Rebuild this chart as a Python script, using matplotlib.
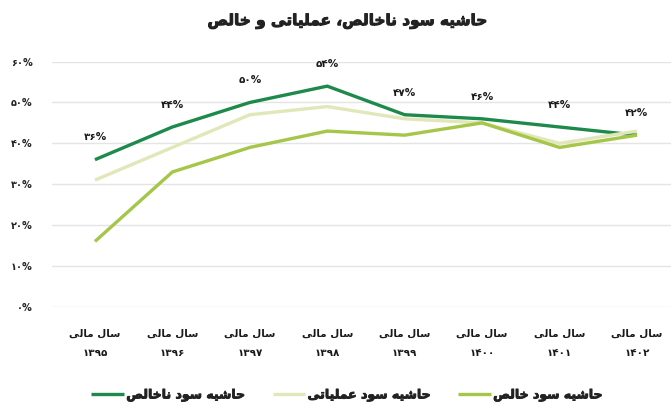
import re
import numpy as np
import matplotlib
matplotlib.use('Agg')
import matplotlib.pyplot as plt
import matplotlib.patheffects as pe

# data (percent)
years = ['۱۳۹۵', '۱۳۹۶', '۱۳۹۷', '۱۳۹۸', '۱۳۹۹', '۱۴۰۰', '۱۴۰۱', '۱۴۰۲']
gross = [36, 44, 50, 54, 47, 46, 44, 42]
operating = [31, 39, 47, 49, 46, 45, 40, 43]
net = [16, 33, 39, 43, 42, 45, 39, 42]
series_names = ['حاشیه سود ناخالص', 'حاشیه سود عملیاتی', 'حاشیه سود خالص']
yticks = [0, 10, 20, 30, 40, 50, 60]
title = 'حاشیه سود ناخالص، عملیاتی و خالص'
cat_prefix = 'سال مالی'

colors = ['#1d8a4c', '#e2e7b9', '#a6c64a']

# matplotlib has no arabic shaping / bidi, so pick contextual forms by hand
FORMS = {
    'ا': ('\uFE8D', '\uFE8E'), 'آ': ('\uFE81', '\uFE82'),
    'د': ('\uFEA9', '\uFEAA'), 'ذ': ('\uFEAB', '\uFEAC'),
    'ر': ('\uFEAD', '\uFEAE'), 'ز': ('\uFEAF', '\uFEB0'),
    'ژ': ('\uFB8A', '\uFB8B'), 'و': ('\uFEED', '\uFEEE'),
    'ب': ('\uFE8F', '\uFE90', '\uFE91', '\uFE92'),
    'پ': ('\uFB56', '\uFB57', '\uFB58', '\uFB59'),
    'ت': ('\uFE95', '\uFE96', '\uFE97', '\uFE98'),
    'ث': ('\uFE99', '\uFE9A', '\uFE9B', '\uFE9C'),
    'ج': ('\uFE9D', '\uFE9E', '\uFE9F', '\uFEA0'),
    'چ': ('\uFB7A', '\uFB7B', '\uFB7C', '\uFB7D'),
    'ح': ('\uFEA1', '\uFEA2', '\uFEA3', '\uFEA4'),
    'خ': ('\uFEA5', '\uFEA6', '\uFEA7', '\uFEA8'),
    'س': ('\uFEB1', '\uFEB2', '\uFEB3', '\uFEB4'),
    'ش': ('\uFEB5', '\uFEB6', '\uFEB7', '\uFEB8'),
    'ص': ('\uFEB9', '\uFEBA', '\uFEBB', '\uFEBC'),
    'ض': ('\uFEBD', '\uFEBE', '\uFEBF', '\uFEC0'),
    'ط': ('\uFEC1', '\uFEC2', '\uFEC3', '\uFEC4'),
    'ظ': ('\uFEC5', '\uFEC6', '\uFEC7', '\uFEC8'),
    'ع': ('\uFEC9', '\uFECA', '\uFECB', '\uFECC'),
    'غ': ('\uFECD', '\uFECE', '\uFECF', '\uFED0'),
    'ف': ('\uFED1', '\uFED2', '\uFED3', '\uFED4'),
    'ق': ('\uFED5', '\uFED6', '\uFED7', '\uFED8'),
    'ک': ('\uFB8E', '\uFB8F', '\uFB90', '\uFB91'),
    'گ': ('\uFB92', '\uFB93', '\uFB94', '\uFB95'),
    'ل': ('\uFEDD', '\uFEDE', '\uFEDF', '\uFEE0'),
    'م': ('\uFEE1', '\uFEE2', '\uFEE3', '\uFEE4'),
    'ن': ('\uFEE5', '\uFEE6', '\uFEE7', '\uFEE8'),
    'ه': ('\uFEE9', '\uFEEA', '\uFEEB', '\uFEEC'),
    'ی': ('\uFBFC', '\uFBFD', '\uFBFE', '\uFBFF'),
}


def shape_line(line):
    out = []
    for i, ch in enumerate(line):
        if ch not in FORMS:
            out.append(ch)
            continue
        f = FORMS[ch]
        prev = line[i - 1] if i > 0 else ''
        nxt = line[i + 1] if i + 1 < len(line) else ''
        pj = prev in FORMS and len(FORMS[prev]) == 4
        nj = nxt in FORMS and len(f) == 4
        if pj and nj:
            out.append(f[3])
        elif pj:
            out.append(f[1])
        elif nj:
            out.append(f[2])
        else:
            out.append(f[0])
    s = ''.join(out)
    # visual order: reverse, but keep digit runs left-to-right
    tokens = re.findall(r'[0-9\u06F0-\u06F9%]+|.', s)
    return ''.join(tokens[::-1])


def fa(text):
    return '\n'.join(shape_line(l) for l in text.split('\n'))


fa_digits = str.maketrans('0123456789', '۰۱۲۳۴۵۶۷۸۹')


def heavy(w):
    return [pe.withStroke(linewidth=w, foreground='#222222')]


plt.rcParams['font.family'] = ['DejaVu Sans']

fig = plt.figure(figsize=(6.71, 4.08), dpi=100)
ax = fig.add_axes([0.0775, 0.248, 0.9225, 0.601])

x = np.arange(len(years))
for vals, name, c in zip([gross, operating, net], series_names, colors):
    ax.plot(x, vals, color=c, lw=2.4, label=fa(name), solid_capstyle='butt')

for xi, v in zip(x, gross):
    ax.annotate((str(v) + '%').translate(fa_digits), (xi, v), xytext=(0, 16),
                textcoords='offset points', ha='center', va='center',
                fontsize=7.5, fontweight='bold', color='#1a1a1a')

ax.set_xlim(-0.555, 7.44)
ax.set_ylim(0, 60)
ax.set_yticks(yticks)
ax.set_yticklabels([(str(t) + '%').translate(fa_digits) for t in yticks],
                   fontsize=7, fontweight='bold', color='#222222')
ax.tick_params(axis='y', length=0, pad=14)
ax.set_xticks(x)
ax.set_xticklabels([fa(cat_prefix + '\n' + y) for y in years], fontsize=7.5,
                   fontweight='bold', color='#1a1a1a', linespacing=2.1)
ax.tick_params(axis='x', length=0, pad=16)
ax.grid(axis='y', color='#e4e4e4', lw=1)
ax.set_axisbelow(True)
for s in ax.spines.values():
    s.set_visible(False)

fig.text(0.517, 0.947, fa(title), ha='center', va='center', fontsize=11,
         fontweight='bold', color='#222222', path_effects=heavy(0.7))

leg = fig.legend(loc='center', bbox_to_anchor=(0.517, 0.032), ncol=3,
                 frameon=False, handlelength=2.6, handletextpad=0.2,
                 columnspacing=2.2, prop={'size': 9, 'weight': 'bold'})
for t in leg.get_texts():
    t.set_color('#222222')
    t.set_path_effects(heavy(0.6))

fig.savefig('out.png', dpi=100, facecolor='white')
